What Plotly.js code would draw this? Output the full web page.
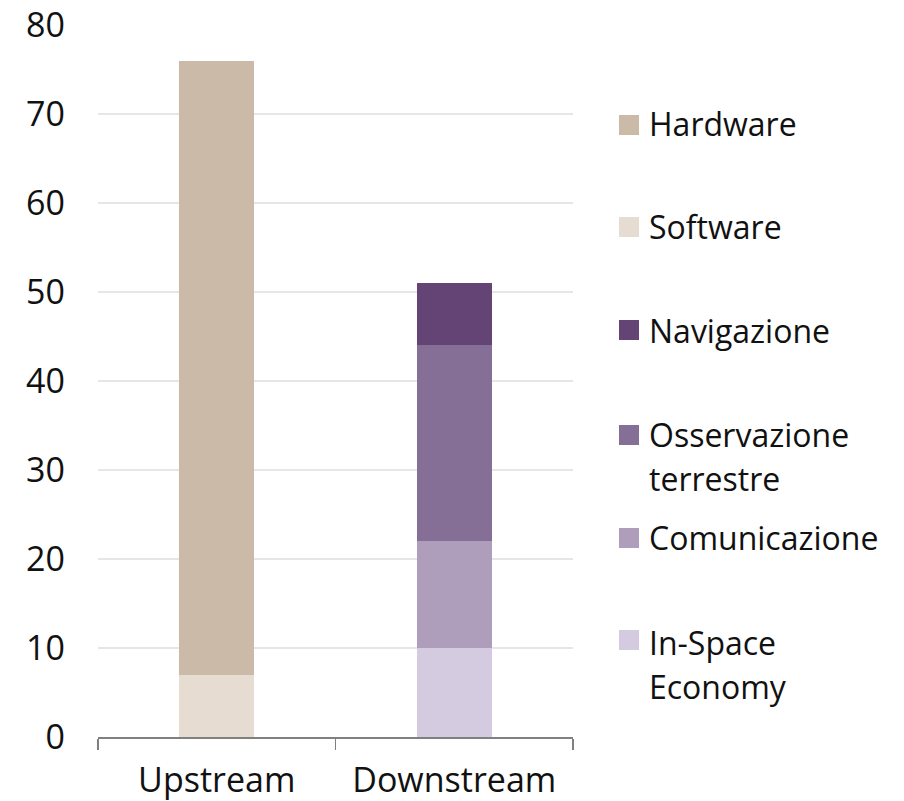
<!DOCTYPE html>
<html>
<head>
<meta charset="utf-8">
<script src="https://cdn.plot.ly/plotly-3.0.1.min.js"></script>
<style>html,body{margin:0;padding:0;background:#fff;}#chart{width:904px;height:801px;}</style>
</head>
<body>
<div id="chart"></div>
<script>
const categories = ["Upstream", "Downstream"];
const seriesNames = ["Hardware", "Software", "Navigazione", "Osservazione terrestre", "Comunicazione", "In-Space Economy"];
const legendLines = [["Hardware"], ["Software"], ["Navigazione"], ["Osservazione", "terrestre"], ["Comunicazione"], ["In-Space", "Economy"]];
const hardware = [69, null];
const software = [7, null];
const navigazione = [null, 7];
const osservazione = [null, 22];
const comunicazione = [null, 12];
const inSpace = [null, 10];
const yTicks = [0, 10, 20, 30, 40, 50, 60, 70, 80];
const colors = {
  "Hardware": "#CCBAA8",
  "Software": "#E6DCD2",
  "Navigazione": "#634474",
  "Osservazione terrestre": "#866F97",
  "Comunicazione": "#AE9DBB",
  "In-Space Economy": "#D4CBE1"
};
const valuesByName = {
  "Hardware": hardware,
  "Software": software,
  "Navigazione": navigazione,
  "Osservazione terrestre": osservazione,
  "Comunicazione": comunicazione,
  "In-Space Economy": inSpace
};
// stacking order bottom -> top
const stackOrder = ["Software", "Hardware", "In-Space Economy", "Comunicazione", "Osservazione terrestre", "Navigazione"];

const FONT = "Open Sans, Noto Sans, sans-serif";
const traces = stackOrder.map(n => ({
  type: "bar",
  name: n,
  x: categories,
  y: valuesByName[n],
  marker: {color: colors[n], line: {width: 0}},
  width: 0.316,
  showlegend: false,
  hoverinfo: "name+y"
}));

// legend layout (pixel centers of each item's first line)
const plotTop = 25, plotBottom = 737, plotLeft = 98, plotRight = 573;
const H = plotBottom - plotTop, W = plotRight - plotLeft;
const legendRowPx = [125, 227, 330, 435, 538, 640];
const legendTextPx = [124, 226, 330, 434, 537, 642];
const lineGap = 44;
const shapes = [];
const annotations = [];
seriesNames.forEach((n, i) => {
  const cy = legendRowPx[i];
  shapes.push({
    type: "rect", xref: "paper", yref: "paper",
    x0: (619 - plotLeft) / W, x1: (639 - plotLeft) / W,
    y0: (plotBottom - (cy - 10)) / H, y1: (plotBottom - (cy + 10)) / H,
    fillcolor: colors[n], line: {width: 0}
  });
  legendLines[i].forEach((line, k) => {
    const ty = legendTextPx[i] + k * lineGap;
    annotations.push({
      xref: "paper", yref: "paper",
      x: (647 - plotLeft) / W, y: (plotBottom - ty) / H,
      xanchor: "left", yanchor: "middle", align: "left",
      text: line, showarrow: false,
      font: {family: FONT, size: 32, color: "#111111"}
    });
  });
});

const layout = {
  width: 904, height: 801,
  margin: {l: plotLeft, r: 904 - plotRight, t: plotTop, b: 801 - plotBottom, pad: 0},
  paper_bgcolor: "#ffffff", plot_bgcolor: "#ffffff",
  barmode: "stack",
  showlegend: false,
  font: {family: FONT, size: 34, color: "#111111"},
  xaxis: {
    type: "category",
    showgrid: false,
    showline: true, linecolor: "#808080", linewidth: 1.5,
    ticks: "outside", tickson: "boundaries", ticklen: 11, tickwidth: 1.5, tickcolor: "#808080",
    tickfont: {family: FONT, size: 34, color: "#111111"},
    ticklabelstandoff: 13,
    fixedrange: true
  },
  yaxis: {
    range: [0, 80],
    tickvals: yTicks,
    ticktext: yTicks.map(String),
    showgrid: true, gridcolor: "#E6E6E6", gridwidth: 1.5,
    zeroline: false, showline: false, ticks: "",
    tickfont: {family: FONT, size: 34, color: "#111111"},
    ticklabelstandoff: 32,
    fixedrange: true
  },
  shapes: shapes,
  annotations: annotations
};

Plotly.newPlot("chart", traces, layout, {displayModeBar: false, staticPlot: true});
</script>
</body>
</html>
